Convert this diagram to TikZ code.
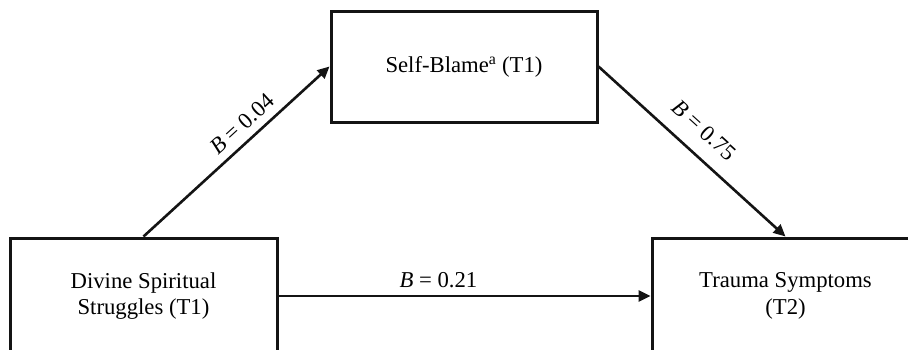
\documentclass[tikz,border=0pt]{standalone}
\usepackage{fontspec}
\setmainfont{Liberation Serif}
\usetikzlibrary{arrows.meta}
\begin{document}
\begin{tikzpicture}[x=1pt,y=-1pt,
  varbox/.style={draw=black!92, line width=3pt, minimum width=266pt,
    minimum height=111pt, inner sep=0pt, align=center,
    font=\fontsize{22.7}{26.7}\selectfont},
  link/.style={draw=black!92, line width=2.6pt, -{Triangle[length=12pt,width=11pt]}},
  coef/.style={font=\fontsize{22.7}{26.7}\selectfont, sloped, above}
]
\useasboundingbox (0,0) rectangle (908,349);
\clip (0,0) rectangle (908,349);
% variables
\node[varbox] (sb) at (464,66.5) {Self-Blame\textsuperscript{a} (T1)};
\node[varbox, minimum height=116pt, minimum width=267pt] (ds) at (143.5,296) {Divine Spiritual\\Struggles (T1)};
\node[varbox, minimum height=116pt, minimum width=267pt] (ts) at (785.5,296) {Trauma Symptoms\\(T2)};
% paths with coefficients
\draw[link] (ds.north) -- node[coef, pos=0.59, inner sep=7.5pt] {\textit{B} = 0.04} (sb.west);
\draw[link] (sb.east) -- node[coef, pos=0.48, inner sep=15pt] {\textit{B} = 0.75} (ts.north);
\draw[link] (ds.east) -- node[coef, pos=0.43, inner sep=6.5pt] {\textit{B} = 0.21} (ts.west);
\end{tikzpicture}
\end{document}
